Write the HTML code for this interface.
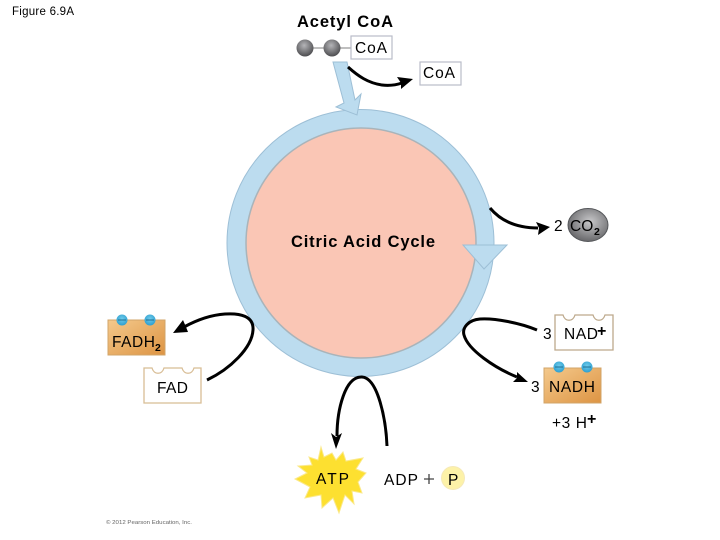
<!DOCTYPE html>
<html>
<head>
<meta charset="utf-8">
<style>
html,body{margin:0;padding:0;background:#fff}
svg{display:block}
text{font-family:"Liberation Sans",sans-serif;fill:#000}
</style>
</head>
<body>
<svg width="720" height="540" viewBox="0 0 720 540" xmlns="http://www.w3.org/2000/svg">
<defs>
<radialGradient id="ball" cx="45%" cy="35%" r="65%"><stop offset="0" stop-color="#b5b5b8"/><stop offset="1" stop-color="#4d4d50"/></radialGradient>
<radialGradient id="co2" cx="55%" cy="40%" r="65%"><stop offset="0" stop-color="#c8c8ca"/><stop offset="1" stop-color="#616164"/></radialGradient>
<linearGradient id="org" x1="0" y1="0" x2="1" y2="1"><stop offset="0" stop-color="#f4c98c"/><stop offset="1" stop-color="#dd9443"/></linearGradient>
<radialGradient id="blue" cx="50%" cy="40%" r="60%"><stop offset="0" stop-color="#6fcbeb"/><stop offset="1" stop-color="#2e9fcf"/></radialGradient>
</defs>

<text x="12" y="15" font-size="11.500" textLength="62" lengthAdjust="spacing">Figure 6.9A</text>
<text x="297" y="27" font-size="16.500" font-weight="bold" textLength="96" lengthAdjust="spacing">Acetyl CoA</text>

<!-- Ring -->
<circle cx="360.500" cy="243" r="133.500" fill="#bcdcef" stroke="#9dbfd6" stroke-width="1"/>
<circle cx="361" cy="243" r="115" fill="#fac6b5" stroke="#a9b4ba" stroke-width="1.500"/>

<!-- Entry arrow -->
<path d="M333 62 L347 62 L355 100 L361 94 L357 115 L336 107 L344 103 Z" fill="#bcdcef" stroke="#9dbfd6" stroke-width="1"/>
<!-- Ring arrowhead -->
<path d="M463 245 L507 245 L484 269 Z" fill="#bcdcef" stroke="#9dbfd6" stroke-width="1"/>

<!-- Acetyl CoA -->
<line x1="305" y1="48" x2="352" y2="48" stroke="#aaa" stroke-width="1.500"/>
<circle cx="305" cy="48" r="8.500" fill="url(#ball)"/>
<circle cx="332" cy="48" r="8.500" fill="url(#ball)"/>
<rect x="351" y="36" width="41" height="23" fill="#fff" stroke="#b9bcc9" stroke-width="1.200"/>
<text x="355" y="53" font-size="15.500" textLength="32" lengthAdjust="spacing">CoA</text>
<rect x="420" y="62" width="41" height="23" fill="#fff" stroke="#b9bcc9" stroke-width="1.200"/>
<text x="423" y="78" font-size="15.500" textLength="32" lengthAdjust="spacing">CoA</text>
<path d="M348 67 C358 76 368 83 382 85 C390 86 396 85 402 83" fill="none" stroke="#000" stroke-width="3"/>
<path d="M413 79 L397 77 L401 83 L401 89 Z" fill="#000"/>

<!-- CO2 -->
<path d="M490 208 C500 220 515 228 538 228" fill="none" stroke="#000" stroke-width="3"/>
<path d="M550 227 L536 222 L539 228 L538 235 Z" fill="#000"/>
<text x="554" y="231" font-size="15.500">2</text>
<ellipse cx="588" cy="225" rx="20" ry="16.500" fill="url(#co2)" stroke="#55575a" stroke-width="1"/>
<text x="570" y="231" font-size="15.500">CO</text>
<text x="594" y="235" font-size="10.500" font-weight="bold">2</text>

<text x="291" y="247" font-size="16.500" font-weight="bold" textLength="144" lengthAdjust="spacing">Citric Acid Cycle</text>

<!-- NAD -->
<path d="M537 330 C520 323 495 318 480 319 C468 320 462 328 464 335 C468 350 495 368 517 377" fill="none" stroke="#000" stroke-width="3"/>
<path d="M528 382 L517 372 L517 378 L513 382 Z" fill="#000"/>
<text x="543" y="339" font-size="15.500">3</text>
<path d="M555 315 H563 C565 322 573 322 575 315 H593 C595 322 603 322 605 315 H613 V350 H555 Z" fill="#fff" stroke="#bda98c" stroke-width="1.300"/>
<text x="564" y="339" font-size="15.500" textLength="34" lengthAdjust="spacing">NAD</text>
<text x="597" y="336" font-size="16" font-weight="bold">+</text>

<!-- NADH -->
<rect x="544" y="368" width="57" height="35" fill="url(#org)" stroke="#d2a468" stroke-width="1"/>
<circle cx="559" cy="367" r="5.500" fill="url(#blue)"/>
<circle cx="587" cy="367" r="5.500" fill="url(#blue)"/>
<line x1="555" y1="367" x2="563" y2="367" stroke="#1f6f94" stroke-width="1"/>
<line x1="583" y1="367" x2="591" y2="367" stroke="#1f6f94" stroke-width="1"/>
<text x="531" y="392" font-size="15.500">3</text>
<text x="549" y="392" font-size="15.500" textLength="46" lengthAdjust="spacing">NADH</text>
<text x="552" y="428" font-size="15.500" textLength="35" lengthAdjust="spacing">+3 H</text>
<text x="587" y="424" font-size="16" font-weight="bold">+</text>

<!-- FADH2 / FAD -->
<rect x="108" y="320" width="57" height="35" fill="url(#org)" stroke="#d2a468" stroke-width="1"/>
<circle cx="122" cy="320" r="5.500" fill="url(#blue)"/>
<circle cx="150" cy="320" r="5.500" fill="url(#blue)"/>
<line x1="118" y1="320" x2="126" y2="320" stroke="#1f6f94" stroke-width="1"/>
<line x1="146" y1="320" x2="154" y2="320" stroke="#1f6f94" stroke-width="1"/>
<text x="112" y="347" font-size="15.500" textLength="43" lengthAdjust="spacing">FADH</text>
<text x="155" y="351" font-size="10.500" font-weight="bold">2</text>
<path d="M144 368 H152 C154 375 162 375 164 368 H182 C184 375 192 375 194 368 H201 V403 H144 Z" fill="#fff" stroke="#d8bd95" stroke-width="1.300"/>
<text x="157" y="393" font-size="15.500" textLength="31" lengthAdjust="spacing">FAD</text>
<path d="M207 380 C230 369 252 348 253 330 C254 316 240 313 225 314 C210 315 195 321 184 327" fill="none" stroke="#000" stroke-width="3"/>
<path d="M173 333 L183 320 L186 327 L188 332 Z" fill="#000"/>

<!-- ATP cycle -->
<path d="M387 446 C386 420 378 378 362 377 C345 376 337 410 337 436" fill="none" stroke="#000" stroke-width="3"/>
<path d="M336 449 L331 433 L336 437 L342 433 Z" fill="#000"/>
<path d="M321 447 L324 457 L332 453 L336 460 L343 452 L346 461 L363 458 L356 469 L366 473 L358 482 L362 493 L352 491 L354 504 L345 495 L339 513 L333 498 L322 508 L321 495 L305 498 L310 487 L295 479 L307 473 L298 466 L312 465 L309 457 L318 460 Z" fill="#fde030" stroke="#fbe98a" stroke-width="1"/>
<text x="316" y="484" font-size="15.500" textLength="33" lengthAdjust="spacing">ATP</text>
<text x="384" y="485" font-size="15.500" textLength="34" lengthAdjust="spacing">ADP</text>
<path d="M424 479 H434 M429 474 V484" stroke="#444" stroke-width="1.300"/>
<circle cx="453" cy="478" r="11.500" fill="#fdf2a8" stroke="#f5e9b8" stroke-width="1"/>
<text x="448" y="485" font-size="15.500">P</text>

<text x="106" y="524" font-size="5.500" textLength="86" lengthAdjust="spacingAndGlyphs" style="fill:#666">© 2012 Pearson Education, Inc.</text>
</svg>
</body>
</html>
